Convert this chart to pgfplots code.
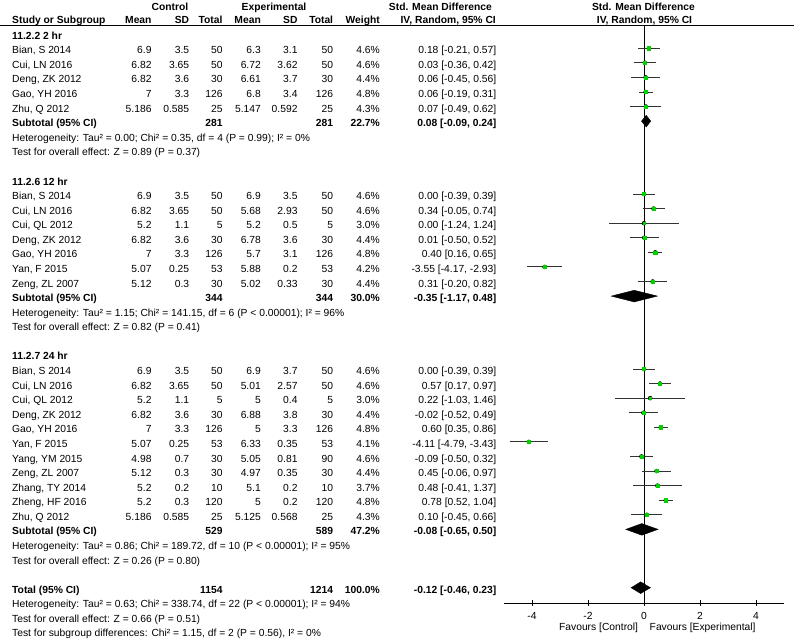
\documentclass[border=0pt]{standalone}
\usepackage{fontspec}
\setmainfont{Liberation Sans}
\usepackage{pgfplots}
\pgfplotsset{compat=1.18}
\usepackage{pgfplotstable}
\definecolor{sqgreen}{RGB}{0,210,0}

\pgfplotstableread{
row est lo hi w
-1 0.18 -0.21 0.57 4.6
-2 0.03 -0.36 0.42 4.6
-3 0.06 -0.45 0.56 4.4
-4 0.06 -0.19 0.31 4.8
-5 0.07 -0.49 0.62 4.3
-11 0.00 -0.39 0.39 4.6
-12 0.34 -0.05 0.74 4.6
-13 0.00 -1.24 1.24 3.0
-14 0.01 -0.50 0.52 4.4
-15 0.40 0.16 0.65 4.8
-16 -3.55 -4.17 -2.93 4.2
-17 0.31 -0.20 0.82 4.4
-23 0.00 -0.39 0.39 4.6
-24 0.57 0.17 0.97 4.6
-25 0.22 -1.03 1.46 3.0
-26 -0.02 -0.52 0.49 4.4
-27 0.60 0.35 0.86 4.8
-28 -4.11 -4.79 -3.43 4.1
-29 -0.09 -0.50 0.32 4.6
-30 0.45 -0.06 0.97 4.4
-31 0.48 -0.41 1.37 3.7
-32 0.78 0.52 1.04 4.8
-33 0.10 -0.45 0.66 4.3
}\studies

\newcommand\yb[1]{\pgfmathsetmacro\Y{39.2+14.58*#1}}
\newcommand\Ltxt[2]{\yb{#1}\node[anchor=base west] at (12,\Y) {#2};}
\newcommand\Rt[3]{\node[anchor=base east] at (#1,#2) {#3};}
\newcommand\study[9]{%
  \yb{#1}%
  \node[anchor=base west] at (12,\Y) {#2};%
  \Rt{151.7}{\Y}{#3}\Rt{189.3}{\Y}{#4}\Rt{222.7}{\Y}{#5}%
  \Rt{261}{\Y}{#6}\Rt{297.7}{\Y}{#7}\Rt{333.3}{\Y}{#8}%
  \Rt{380}{\Y}{#9}}
\newcommand\ci[2]{\yb{#1}\Rt{496.5}{\Y}{#2}}
\newcommand\subt[6]{%
  \yb{#1}%
  \node[anchor=base west] at (12,\Y) {\bfseries #2};%
  \Rt{222.7}{\Y}{\bfseries #3}\Rt{333.3}{\Y}{\bfseries #4}%
  \Rt{380}{\Y}{\bfseries #5}\Rt{496.5}{\Y}{\bfseries #6}}

\begin{document}
\begin{tikzpicture}[x=1pt,y=-1pt,every node/.style={inner sep=0pt,font=\fontsize{10.3}{12}\selectfont}]
\useasboundingbox (0,0) rectangle (794,640);
\coordinate (AX) at (504,603);

% header
\node[anchor=base] at (170,10.2) {\bfseries Control};
\node[anchor=base] at (274,10.2) {\bfseries Experimental};
\node[anchor=base east] at (492,10.2) {\bfseries Std. Mean Difference};
\node[anchor=base] at (643.5,10.2) {\bfseries Std. Mean Difference};
\node[anchor=base west] at (12,23.5) {\bfseries Study or Subgroup};
\Rt{151.7}{23.5}{\bfseries Mean}\Rt{189.3}{23.5}{\bfseries SD}\Rt{222.7}{23.5}{\bfseries Total}
\Rt{261}{23.5}{\bfseries Mean}\Rt{297.7}{23.5}{\bfseries SD}\Rt{333.3}{23.5}{\bfseries Total}
\Rt{380}{23.5}{\bfseries Weight}
\Rt{496}{23.5}{\bfseries IV, Random, 95\% CI}
\node[anchor=base] at (644.5,23.5) {\bfseries IV, Random, 95\% CI};
\draw[line width=0.9pt] (0,25.7) -- (794,25.7);

% group 1
\Ltxt{0}{\bfseries 11.2.2 2 hr}
\study{1}{Bian, S 2014}{6.9}{3.5}{50}{6.3}{3.1}{50}{4.6\%}\ci{1}{0.18 [-0.21, 0.57]}
\study{2}{Cui, LN 2016}{6.82}{3.65}{50}{6.72}{3.62}{50}{4.6\%}\ci{2}{0.03 [-0.36, 0.42]}
\study{3}{Deng, ZK 2012}{6.82}{3.6}{30}{6.61}{3.7}{30}{4.4\%}\ci{3}{0.06 [-0.45, 0.56]}
\study{4}{Gao, YH 2016}{7}{3.3}{126}{6.8}{3.4}{126}{4.8\%}\ci{4}{0.06 [-0.19, 0.31]}
\study{5}{Zhu, Q 2012}{5.186}{0.585}{25}{5.147}{0.592}{25}{4.3\%}\ci{5}{0.07 [-0.49, 0.62]}
\subt{6}{Subtotal (95\% CI)}{281}{281}{22.7\%}{0.08 [-0.09, 0.24]}
\Ltxt{7}{Heterogeneity: Tau² = 0.00; Chi² = 0.35, df = 4 (P = 0.99); I² = 0\%}
\Ltxt{8}{Test for overall effect: Z = 0.89 (P = 0.37)}

% group 2
\Ltxt{10}{\bfseries 11.2.6 12 hr}
\study{11}{Bian, S 2014}{6.9}{3.5}{50}{6.9}{3.5}{50}{4.6\%}\ci{11}{0.00 [-0.39, 0.39]}
\study{12}{Cui, LN 2016}{6.82}{3.65}{50}{5.68}{2.93}{50}{4.6\%}\ci{12}{0.34 [-0.05, 0.74]}
\study{13}{Cui, QL 2012}{5.2}{1.1}{5}{5.2}{0.5}{5}{3.0\%}\ci{13}{0.00 [-1.24, 1.24]}
\study{14}{Deng, ZK 2012}{6.82}{3.6}{30}{6.78}{3.6}{30}{4.4\%}\ci{14}{0.01 [-0.50, 0.52]}
\study{15}{Gao, YH 2016}{7}{3.3}{126}{5.7}{3.1}{126}{4.8\%}\ci{15}{0.40 [0.16, 0.65]}
\study{16}{Yan, F 2015}{5.07}{0.25}{53}{5.88}{0.2}{53}{4.2\%}\ci{16}{-3.55 [-4.17, -2.93]}
\study{17}{Zeng, ZL 2007}{5.12}{0.3}{30}{5.02}{0.33}{30}{4.4\%}\ci{17}{0.31 [-0.20, 0.82]}
\subt{18}{Subtotal (95\% CI)}{344}{344}{30.0\%}{-0.35 [-1.17, 0.48]}
\Ltxt{19}{Heterogeneity: Tau² = 1.15; Chi² = 141.15, df = 6 (P < 0.00001); I² = 96\%}
\Ltxt{20}{Test for overall effect: Z = 0.82 (P = 0.41)}

% group 3
\Ltxt{22}{\bfseries 11.2.7 24 hr}
\study{23}{Bian, S 2014}{6.9}{3.5}{50}{6.9}{3.7}{50}{4.6\%}\ci{23}{0.00 [-0.39, 0.39]}
\study{24}{Cui, LN 2016}{6.82}{3.65}{50}{5.01}{2.57}{50}{4.6\%}\ci{24}{0.57 [0.17, 0.97]}
\study{25}{Cui, QL 2012}{5.2}{1.1}{5}{5}{0.4}{5}{3.0\%}\ci{25}{0.22 [-1.03, 1.46]}
\study{26}{Deng, ZK 2012}{6.82}{3.6}{30}{6.88}{3.8}{30}{4.4\%}\ci{26}{-0.02 [-0.52, 0.49]}
\study{27}{Gao, YH 2016}{7}{3.3}{126}{5}{3.3}{126}{4.8\%}\ci{27}{0.60 [0.35, 0.86]}
\study{28}{Yan, F 2015}{5.07}{0.25}{53}{6.33}{0.35}{53}{4.1\%}\ci{28}{-4.11 [-4.79, -3.43]}
\study{29}{Yang, YM 2015}{4.98}{0.7}{30}{5.05}{0.81}{90}{4.6\%}\ci{29}{-0.09 [-0.50, 0.32]}
\study{30}{Zeng, ZL 2007}{5.12}{0.3}{30}{4.97}{0.35}{30}{4.4\%}\ci{30}{0.45 [-0.06, 0.97]}
\study{31}{Zhang, TY 2014}{5.2}{0.2}{10}{5.1}{0.2}{10}{3.7\%}\ci{31}{0.48 [-0.41, 1.37]}
\study{32}{Zheng, HF 2016}{5.2}{0.3}{120}{5}{0.2}{120}{4.8\%}\ci{32}{0.78 [0.52, 1.04]}
\study{33}{Zhu, Q 2012}{5.186}{0.585}{25}{5.125}{0.568}{25}{4.3\%}\ci{33}{0.10 [-0.45, 0.66]}
\subt{34}{Subtotal (95\% CI)}{529}{589}{47.2\%}{-0.08 [-0.65, 0.50]}
\Ltxt{35}{Heterogeneity: Tau² = 0.86; Chi² = 189.72, df = 10 (P < 0.00001); I² = 95\%}
\Ltxt{36}{Test for overall effect: Z = 0.26 (P = 0.80)}

% total
\subt{38}{Total (95\% CI)}{1154}{1214}{100.0\%}{-0.12 [-0.46, 0.23]}
\Ltxt{39}{Heterogeneity: Tau² = 0.63; Chi² = 338.74, df = 22 (P < 0.00001); I² = 94\%}
\Ltxt{40}{Test for overall effect: Z = 0.66 (P = 0.51)}
\Ltxt{41}{Test for subgroup differences: Chi² = 1.15, df = 2 (P = 0.56), I² = 0\%}

\node[anchor=base east] at (638.3,630.7) {Favours [Control]};
\node[anchor=base west] at (649.5,630.7) {Favours [Experimental]};

\begin{axis}[
  at={(AX)}, anchor=south west,
  x=28pt, y=14.58pt,
  xmin=-5, xmax=5, ymin=-39.05, ymax=0.535,
  axis x line*=bottom, axis y line=none,
  axis line style={black, line width=0.9pt},
  xtick={-4,-2,0,2,4}, ytick=\empty,
  tick align=center, major tick length=6pt,
  tick style={black, line width=0.9pt},
  /pgf/number format/assume math mode=true,
  xticklabel style={anchor=base, yshift=-13.7pt, font=\fontsize{10.3}{12}\selectfont, inner sep=0pt},
  clip=false,
]
\addplot[black, line width=0.9pt] coordinates {(0,0.535) (0,-39.05)};
\addplot[only marks, mark=none,
  error bars/.cd, x dir=both, x explicit, error mark=none,
  error bar style={black!80, line width=0.9pt}]
  table[x=est, y=row, x error plus expr=\thisrow{hi}-\thisrow{est}, x error minus expr=\thisrow{est}-\thisrow{lo}] {\studies};
\addplot[scatter, only marks, mark=square*,
  scatter/use mapped color={draw=sqgreen, fill=sqgreen},
  visualization depends on={0.34*\thisrow{w} \as \msz},
  scatter/@pre marker code/.append style={/tikz/mark size=\msz, /tikz/line width=0pt}]
  table[x=est, y=row] {\studies};
\addplot[fill=black, draw=black] coordinates {(-0.09,-6) (0.08,-5.6) (0.24,-6) (0.08,-6.4)} -- cycle;
\addplot[fill=black, draw=black] coordinates {(-1.17,-18) (-0.35,-17.6) (0.48,-18) (-0.35,-18.4)} -- cycle;
\addplot[fill=black, draw=black] coordinates {(-0.65,-34) (-0.08,-33.6) (0.50,-34) (-0.08,-34.4)} -- cycle;
\addplot[fill=black, draw=black] coordinates {(-0.46,-38) (-0.12,-37.6) (0.23,-38) (-0.12,-38.4)} -- cycle;
\end{axis}
\end{tikzpicture}
\end{document}
